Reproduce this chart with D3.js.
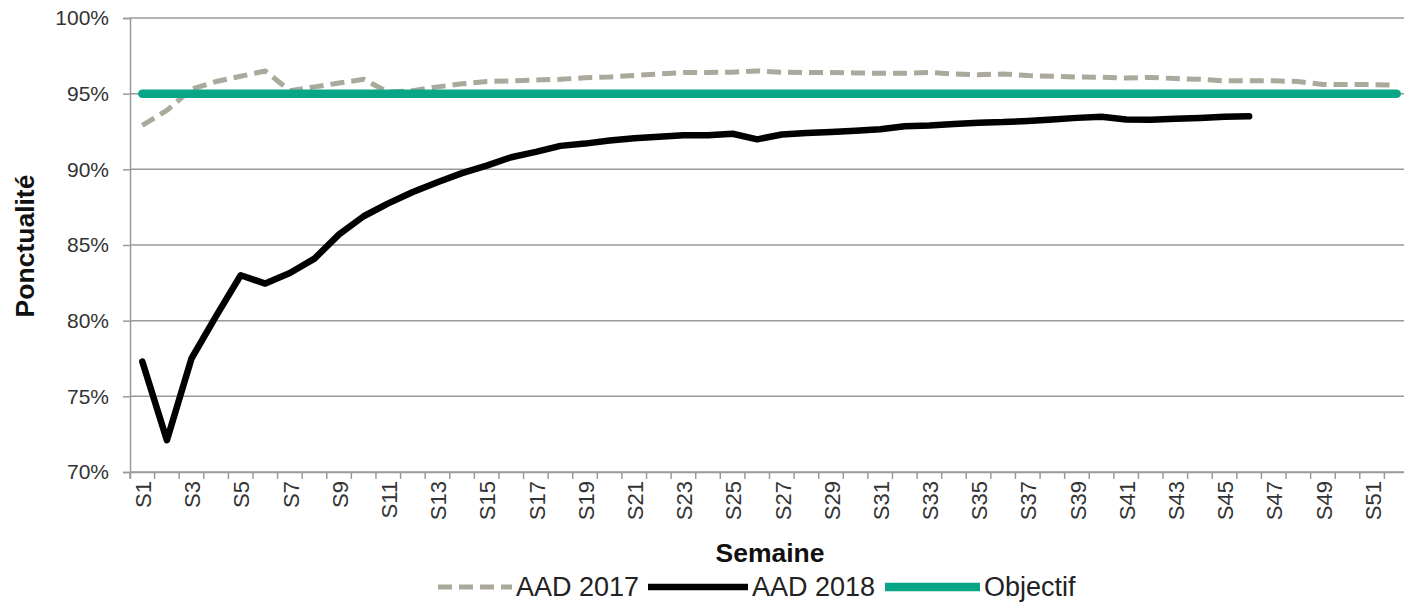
<!DOCTYPE html>
<html>
<head>
<meta charset="utf-8">
<script src="https://cdn.jsdelivr.net/npm/d3@7"></script>
<style>
  body { margin: 0; background: #fff; }
  svg { font-family: "Liberation Sans", Arial, sans-serif; }
</style>
</head>
<body>
<div id="chart"></div>
<script>
// weeks S1..S52
var weeks = d3.range(1, 53).map(function(i) { return "S" + i; });

// ponctualité AAD 2017
var aad2017 = [92.9, 93.9, 95.3, 95.8, 96.15, 96.5, 95.2, 95.45, 95.7, 95.95,
  95.1, 95.2, 95.45, 95.65, 95.8, 95.85, 95.9, 95.95, 96.05, 96.1,
  96.2, 96.3, 96.4, 96.4, 96.42, 96.5, 96.42, 96.4, 96.4, 96.37,
  96.35, 96.35, 96.4, 96.3, 96.25, 96.3, 96.2, 96.15, 96.1, 96.08,
  96.03, 96.07, 96.0, 95.95, 95.85, 95.85, 95.85, 95.8, 95.6, 95.6,
  95.6, 95.55];

// AAD 2018, up to S46
var aad2018 = [77.3, 72.1, 77.5, 80.3, 83.0, 82.45, 83.15, 84.1, 85.7, 86.9,
  87.75, 88.5, 89.15, 89.75, 90.25, 90.8, 91.15, 91.55, 91.7, 91.9,
  92.05, 92.15, 92.25, 92.25, 92.35, 91.98, 92.3, 92.4, 92.47, 92.55,
  92.65, 92.85, 92.9, 93.0, 93.08, 93.12, 93.2, 93.3, 93.4, 93.47,
  93.3, 93.27, 93.35, 93.4, 93.47, 93.5];

// objectif
var objectif = weeks.map(function() { return 95; });

var yTicks = [70, 75, 80, 85, 90, 95, 100];

var series = [
  { name: "AAD 2017", values: aad2017, color: "#aaa99b", width: 5, dash: "14,7" },
  { name: "AAD 2018", values: aad2018, color: "#000000", width: 6.5, dash: null },
  { name: "Objectif", values: objectif, color: "#08a586", width: 8.5, dash: null }
];

var svgWidth = 1404, svgHeight = 606;

var svg = d3.select("#chart").append("svg")
    .attr("width", svgWidth)
    .attr("height", svgHeight);

var x = d3.scaleBand().domain(weeks).range([130, 1409]).padding(0);
var y = d3.scaleLinear().domain([70, 100]).range([472, 18]);
var bw = x.bandwidth();

// gridlines
svg.append("g")
  .selectAll("line")
  .data(yTicks)
  .enter().append("line")
    .attr("x1", 130).attr("x2", svgWidth)
    .attr("y1", function(d) { return y(d); })
    .attr("y2", function(d) { return y(d); })
    .attr("stroke", "#9a9a9a")
    .attr("stroke-width", 1.5);

// y axis
var leftAxis = d3.axisLeft(y).tickValues(yTicks).tickSize(7).tickPadding(14)
    .tickFormat(function(d) { return d + "%"; });
var gy = svg.append("g").attr("transform", "translate(130,0)").call(leftAxis);
gy.select(".domain").attr("stroke", "#9a9a9a").attr("stroke-width", 1.5);
gy.selectAll(".tick line").attr("stroke", "#9a9a9a").attr("stroke-width", 1.5);
gy.selectAll(".tick text").attr("font-size", 21).attr("fill", "#333")
  .attr("font-family", "Liberation Sans, Arial, sans-serif");

// x axis, ticks sit between the weeks
var bottomAxis = d3.axisBottom(x).tickSizeOuter(0).tickSize(7)
    .tickFormat(function(d, i) { return i % 2 === 0 ? d : ""; });
var gx = svg.append("g").attr("transform", "translate(0,472)").call(bottomAxis);
gx.select(".domain").attr("stroke", "#9a9a9a").attr("stroke-width", 1.5);
gx.selectAll(".tick line").attr("stroke", "#9a9a9a").attr("stroke-width", 1.5)
  .attr("transform", "translate(" + (-bw / 2) + ",0)");
gx.selectAll(".tick text")
  .attr("font-size", 22).attr("fill", "#333")
  .attr("font-family", "Liberation Sans, Arial, sans-serif")
  .attr("transform", "rotate(-90)")
  .attr("text-anchor", "end")
  .attr("x", -9).attr("y", 1).attr("dy", "0.35em");

// lines
var line = d3.line()
  .x(function(d, i) { return x(weeks[i]) + bw / 2; })
  .y(function(d) { return y(d); });

svg.append("g").selectAll("path")
  .data(series)
  .enter().append("path")
    .attr("d", function(s) { return line(s.values); })
    .attr("fill", "none")
    .attr("stroke", function(s) { return s.color; })
    .attr("stroke-width", function(s) { return s.width; })
    .attr("stroke-dasharray", function(s) { return s.dash; })
    .attr("stroke-linejoin", "round")
    .attr("stroke-linecap", function(s) { return s.dash ? "butt" : "round"; });

// axis titles
svg.append("text")
  .attr("transform", "translate(34,246) rotate(-90)")
  .attr("text-anchor", "middle")
  .attr("font-size", 26.5).attr("font-weight", "bold").attr("fill", "#111")
  .text("Ponctualité");

svg.append("text")
  .attr("x", 770).attr("y", 562)
  .attr("text-anchor", "middle")
  .attr("font-size", 26.5).attr("font-weight", "bold").attr("fill", "#111")
  .text("Semaine");

// legend
var legendPos = [438, 648, 885];
var legendLen = [74, 100, 95];
var legend = svg.append("g").selectAll("g")
  .data(series)
  .enter().append("g")
    .attr("transform", function(s, i) { return "translate(" + legendPos[i] + ",587)"; });

legend.append("line")
  .attr("x1", 0).attr("x2", function(s, i) { return legendLen[i]; })
  .attr("y1", 0).attr("y2", 0)
  .attr("stroke", function(s) { return s.color; })
  .attr("stroke-width", function(s) { return s.width; })
  .attr("stroke-dasharray", function(s) { return s.dash; });

legend.append("text")
  .attr("x", function(s, i) { return legendLen[i] + 4; })
  .attr("y", 0).attr("dy", "0.35em")
  .attr("font-size", 27).attr("fill", "#222")
  .text(function(s) { return s.name; });
</script>
</body>
</html>
